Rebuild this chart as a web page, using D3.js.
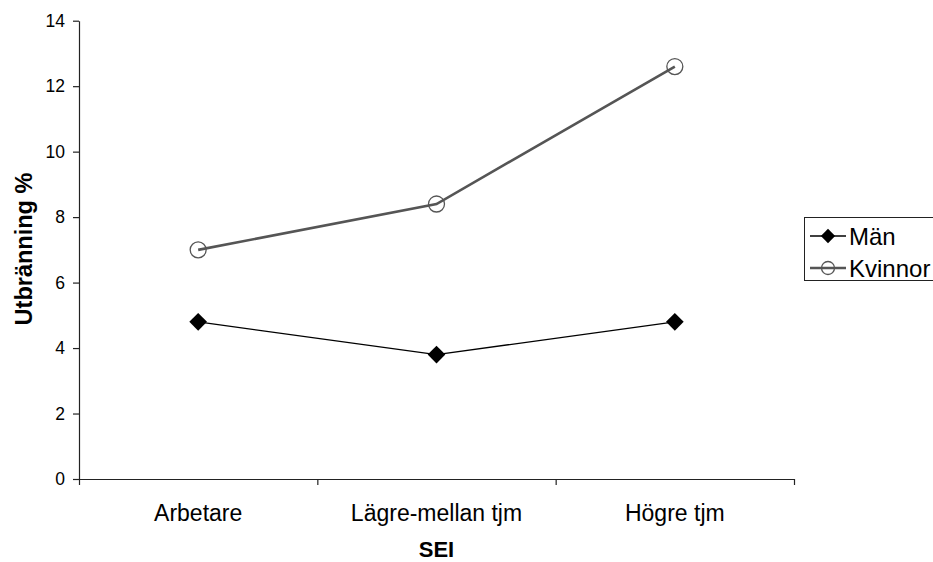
<!DOCTYPE html>
<html>
<head>
<meta charset="utf-8">
<script src="https://cdn.jsdelivr.net/npm/d3@7"></script>
<style>
  body { margin: 0; background: #fff; }
  text { font-family: "Liberation Sans", Arial, sans-serif; fill: #000; }
</style>
</head>
<body>
<div id="viz"></div>
<script>
// chart data
const categories = ["Arbetare", "Lägre-mellan tjm", "Högre tjm"];
const man = [4.8, 3.8, 4.8];
const kvinnor = [7.0, 8.4, 12.6];
const yTicks = [0, 2, 4, 6, 8, 10, 12, 14];
const seriesNames = ["Män", "Kvinnor"];

const width = 933;
const height = 562;
const plot = {left: 79, right: 794, top: 20.7, bottom: 479};

const svg = d3.select("#viz")
    .append("svg")
    .attr("width", width)
    .attr("height", height);

// scales
const xl = d3.scaleLinear().domain([0, categories.length]).range([plot.left, plot.right]);
const x = function (i) { return xl(i + 0.5); };
const y = d3.scaleLinear().domain([0, 14]).range([plot.bottom, plot.top]);

// y axis
const yAxis = svg.append("g")
    .attr("transform", "translate(" + plot.left + ",0)")
    .call(d3.axisLeft(y).tickValues(yTicks).tickSize(6).tickSizeOuter(0).tickPadding(8));
yAxis.selectAll("text").style("font-size", "17.5px");

// x axis, ticks at the category boundaries
const xAxis = svg.append("g")
    .attr("transform", "translate(0," + plot.bottom + ")")
    .call(d3.axisBottom(xl).tickValues(d3.range(categories.length + 1)).tickFormat("").tickSize(6).tickSizeOuter(0));

svg.selectAll(".domain, .tick line").attr("stroke", "#222").attr("stroke-width", 1.2);

// category labels
svg.append("g")
    .selectAll("text")
    .data(categories)
    .enter()
    .append("text")
    .attr("x", function (d, i) { return x(i); })
    .attr("y", 521)
    .attr("text-anchor", "middle")
    .style("font-size", "23px")
    .text(function (d) { return d; });

// axis titles
svg.append("text")
    .attr("transform", "translate(32,249) rotate(-90)")
    .attr("text-anchor", "middle")
    .style("font-size", "23.5px")
    .style("font-weight", "bold")
    .text("Utbränning %");

svg.append("text")
    .attr("x", x(1))
    .attr("y", 557)
    .attr("text-anchor", "middle")
    .style("font-size", "22px")
    .style("font-weight", "bold")
    .text("SEI");

const line = d3.line()
    .x(function (d, i) { return x(i); })
    .y(function (d) { return y(d); });

const diamond = d3.symbol().type(d3.symbolDiamond2).size(200);

// Kvinnor: thick gray line, open circles
svg.append("path")
    .datum(kvinnor)
    .attr("d", line)
    .attr("fill", "none")
    .attr("stroke", "#555")
    .attr("stroke-width", 2.6);

svg.append("g")
    .selectAll("circle")
    .data(kvinnor)
    .enter()
    .append("circle")
    .attr("cx", function (d, i) { return x(i); })
    .attr("cy", function (d) { return y(d); })
    .attr("r", 8)
    .attr("fill", "none")
    .attr("stroke", "#555")
    .attr("stroke-width", 1.3);

// Män: thin black line, filled diamonds
svg.append("path")
    .datum(man)
    .attr("d", line)
    .attr("fill", "none")
    .attr("stroke", "#000")
    .attr("stroke-width", 1.3);

svg.append("g")
    .selectAll("path")
    .data(man)
    .enter()
    .append("path")
    .attr("d", diamond)
    .attr("transform", function (d, i) { return "translate(" + x(i) + "," + y(d) + ")"; })
    .attr("fill", "#000");

// legend
const legend = svg.append("g");
legend.append("rect")
    .attr("x", 804.5)
    .attr("y", 217.5)
    .attr("width", 140)
    .attr("height", 63)
    .attr("fill", "#fff")
    .attr("stroke", "#222")
    .attr("stroke-width", 1);

const rows = [236, 268];
legend.append("line")
    .attr("x1", 810).attr("x2", 846)
    .attr("y1", rows[0]).attr("y2", rows[0])
    .attr("stroke", "#000").attr("stroke-width", 1.3);
legend.append("path")
    .attr("d", d3.symbol().type(d3.symbolDiamond2).size(130))
    .attr("transform", "translate(828," + rows[0] + ")")
    .attr("fill", "#000");

legend.append("line")
    .attr("x1", 810).attr("x2", 846)
    .attr("y1", rows[1]).attr("y2", rows[1])
    .attr("stroke", "#555").attr("stroke-width", 2.6);
legend.append("circle")
    .attr("cx", 828).attr("cy", rows[1]).attr("r", 6.5)
    .attr("fill", "none").attr("stroke", "#555").attr("stroke-width", 1.3);

legend.selectAll(".ltext")
    .data(seriesNames)
    .enter()
    .append("text")
    .attr("class", "ltext")
    .attr("x", 849)
    .attr("y", function (d, i) { return rows[i] + 8.5; })
    .style("font-size", "24px")
    .text(function (d) { return d; });
</script>
</body>
</html>
